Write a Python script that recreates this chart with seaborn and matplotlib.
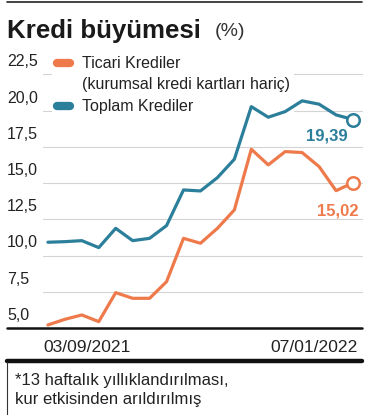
import pandas as pd
import matplotlib.pyplot as plt
import matplotlib.transforms as mtransforms
from matplotlib.lines import Line2D
import seaborn as sns

# Data (weekly, 03/09/2021 .. 07/01/2022)
weeks = list(range(19))
ticari = [5.21, 5.60, 5.90, 5.44, 7.44, 7.05, 7.05, 8.20, 11.19, 10.85,
          11.88, 13.15, 17.34, 16.26, 17.18, 17.11, 16.14, 14.48, 15.02]
toplam = [10.92, 10.96, 11.03, 10.55, 11.88, 11.03, 11.19, 12.07, 14.53, 14.46,
          15.38, 16.65, 20.28, 19.55, 19.94, 20.68, 20.45, 19.71, 19.39]
yticks = [5.0, 7.5, 10.0, 12.5, 15.0, 17.5, 20.0, 22.5]
ytick_labels = ["5,0", "7,5", "10,0", "12,5", "15,0", "17,5", "20,0", "22,5"]
xtick_labels = ["03/09/2021", "07/01/2022"]

ORANGE = "#EE7A4B"
BLUE = "#2B7F9B"
TXT = "#222222"

sns.set_style("white")
plt.rcParams['font.family'] = ['Liberation Sans', 'DejaVu Sans']

df = pd.DataFrame({
    "week": weeks * 2,
    "value": ticari + toplam,
    "series": ["Ticari"] * len(weeks) + ["Toplam"] * len(weeks),
})

W, H = 369, 415
fig = plt.figure(figsize=(W / 100, H / 100), dpi=100)
ax = fig.add_axes([43 / W, (H - 328) / H, 320 / W, 268 / H])

sns.lineplot(data=df, x="week", y="value", hue="series",
             palette={"Ticari": ORANGE, "Toplam": BLUE},
             linewidth=2.3, legend=False, ax=ax, zorder=3)

# open circles on last points
ax.plot(weeks[-1], ticari[-1], "o", ms=9, mfc="white", mec=ORANGE, mew=1.8, zorder=4)
ax.plot(weeks[-1], toplam[-1], "o", ms=9, mfc="white", mec=BLUE, mew=1.8, zorder=4)

ax.set_xlim(-0.29, 18.59)
ax.set_ylim(5.0, 23.5)
for s in ax.spines.values():
    s.set_visible(False)
ax.set_xticks([])
ax.set_yticks([])
ax.set_xlabel("")
ax.set_ylabel("")

# gridlines
for v in yticks[1:]:
    ax.axhline(v, color="#d4d4d4", lw=0.8, zorder=1)

trans = mtransforms.blended_transform_factory(fig.transFigure, ax.transData)

# legend background hides gridlines but stays below the data lines
ax.add_patch(plt.Rectangle((52 / W, (H - 118) / H), 242 / W, 63 / H,
                           transform=fig.transFigure, facecolor="white",
                           edgecolor="none", zorder=2))

# y labels sit above their gridlines, at the left edge of the figure
for v, lab in zip(yticks, ytick_labels):
    ax.text(7 / W, v + 0.35, lab, transform=trans, ha="left", va="bottom",
            fontsize=11.5, color=TXT)

# end value labels
ax.text(348 / W, 19.39 - 0.6, "19,39", transform=trans, ha="right", va="top",
        fontsize=12, fontweight="bold", color=BLUE)
ax.text(358 / W, 15.02 - 1.4, "15,02", transform=trans, ha="right", va="top",
        fontsize=12, fontweight="bold", color=ORANGE)

for yy, col in [(63, ORANGE), (106, BLUE)]:
    fig.add_artist(Line2D([57 / W, 70 / W], [(H - yy) / H] * 2, color=col, zorder=5,
                          lw=6, solid_capstyle="round", transform=fig.transFigure))
fig.text(82 / W, (H - 63) / H, "Ticari Krediler", fontsize=11.5, va="center", color=TXT)
fig.text(82 / W, (H - 84) / H, "(kurumsal kredi kartları hariç)", fontsize=11.5,
         va="center", color=TXT)
fig.text(82 / W, (H - 106) / H, "Toplam Krediler", fontsize=11.5, va="center", color=TXT)

# title
fig.text(7 / W, (H - 31) / H, "Kredi büyümesi", fontsize=18.6, fontweight="bold",
         va="center", color="#1a1a1a")
fig.text(215 / W, (H - 32) / H, "(%)", fontsize=14, va="center", color="#333333")

# rules
fig.add_artist(Line2D([7 / W, 362 / W], [(H - 2) / H] * 2, color=TXT, lw=1.2))
fig.add_artist(Line2D([7 / W, 362 / W], [(H - 328) / H] * 2, color="#111111", lw=1.8, zorder=5))
fig.add_artist(Line2D([7 / W, 362 / W], [(H - 361) / H] * 2, color="#111111", lw=3.2))
fig.add_artist(Line2D([7 / W, 7 / W], [(H - 362) / H, 0], color="#333333", lw=0.8))

# x labels
fig.text(43 / W, (H - 347) / H, xtick_labels[0], fontsize=12.6, va="center",
         ha="left", color=TXT)
fig.text(358 / W, (H - 347) / H, xtick_labels[1], fontsize=12.6, va="center",
         ha="right", color=TXT)

# footnote
fig.text(15 / W, (H - 380) / H, "*13 haftalık yıllıklandırılması,", fontsize=12,
         va="center", color=TXT)
fig.text(15 / W, (H - 399) / H, "kur etkisinden arıldırılmış", fontsize=12,
         va="center", color=TXT)

fig.savefig("out.png", dpi=100)
